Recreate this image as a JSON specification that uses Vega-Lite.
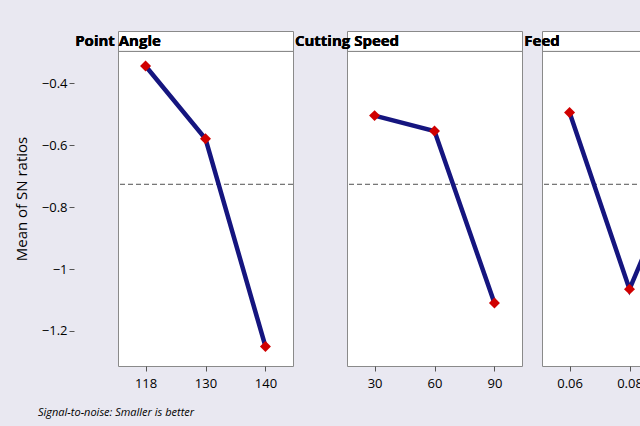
{
  "$schema": "https://vega.github.io/schema/vega-lite/v6.json",
  "background": "#E9E8F1",
  "padding": {"left": 14, "top": 30, "right": 10, "bottom": 8},
  "config": {
    "font": "Open Sans",
    "view": {"fill": "white", "stroke": "#8a8a8a"},
    "facet": {"spacing": 0},
    "axis": {"labelFontSize": 13, "labelColor": "black", "domain": false, "tickColor": "#555", "grid": false}
  },
  "data": {
    "values": [
      {"factor": "Point Angle", "order": 1, "level": "118", "sn": -0.345},
      {"factor": "Point Angle", "order": 1, "level": "130", "sn": -0.58},
      {"factor": "Point Angle", "order": 1, "level": "140", "sn": -1.25},
      {"factor": "Cutting Speed", "order": 2, "level": "30", "sn": -0.505},
      {"factor": "Cutting Speed", "order": 2, "level": "60", "sn": -0.555},
      {"factor": "Cutting Speed", "order": 2, "level": "90", "sn": -1.11},
      {"factor": "Feed", "order": 3, "level": "0.06", "sn": -0.495},
      {"factor": "Feed", "order": 3, "level": "0.08", "sn": -1.065},
      {"factor": "Feed", "order": 3, "level": "0.10", "sn": -0.607}
    ]
  },
  "title": {"text": "Signal-to-noise: Smaller is better", "orient": "bottom", "anchor": "start", "frame": "group", "fontStyle": "italic", "fontSize": 11, "fontWeight": "normal", "offset": 16, "dx": -80},
  "facet": {
    "column": {
      "field": "factor", "type": "nominal",
      "sort": ["Point Angle", "Cutting Speed", "Feed"],
      "header": {"title": null, "labels": false}
    }
  },
  "spec": {
    "width": 175,
    "height": 335,
    "layer": [
      {
        "mark": {"type": "rule", "color": "#8a8a8a", "strokeWidth": 1},
        "encoding": {"y": {"datum": -0.298}}
      },
      {
        "mark": {"type": "text", "fontSize": 15, "fontWeight": "bold", "color": "black", "baseline": "middle"},
        "encoding": {
          "x": {"value": {"expr": "width/2"}},
          "y": {"datum": -0.265},
          "text": {"field": "factor"}
        }
      },
      {
        "mark": {"type": "rule", "color": "#777", "strokeDash": [5, 3], "strokeWidth": 1},
        "encoding": {"y": {"datum": -0.727}}
      },
      {
        "mark": {"type": "line", "color": "#15157F", "strokeWidth": 4.5},
        "encoding": {
          "x": {"field": "level", "type": "ordinal", "sort": null, "title": null, "scale": {"type": "point", "padding": 0.46}, "axis": {"labelAngle": 0, "labelPadding": 6}},
          "y": {"field": "sn", "type": "quantitative", "title": "Mean of SN ratios", "scale": {"domain": [-1.313, -0.232], "nice": false, "zero": false}, "axis": {"values": [-0.4, -0.6, -0.8, -1, -1.2], "format": "~g", "titleFontSize": 15, "titleFontWeight": "normal", "titlePadding": 12}}
        }
      },
      {
        "mark": {"type": "point", "shape": "diamond", "filled": true, "color": "#D00000", "size": 120, "opacity": 1},
        "encoding": {
          "x": {"field": "level", "type": "ordinal", "sort": null},
          "y": {"field": "sn", "type": "quantitative"}
        }
      }
    ]
  },
  "resolve": {"scale": {"x": "independent"}}
}
